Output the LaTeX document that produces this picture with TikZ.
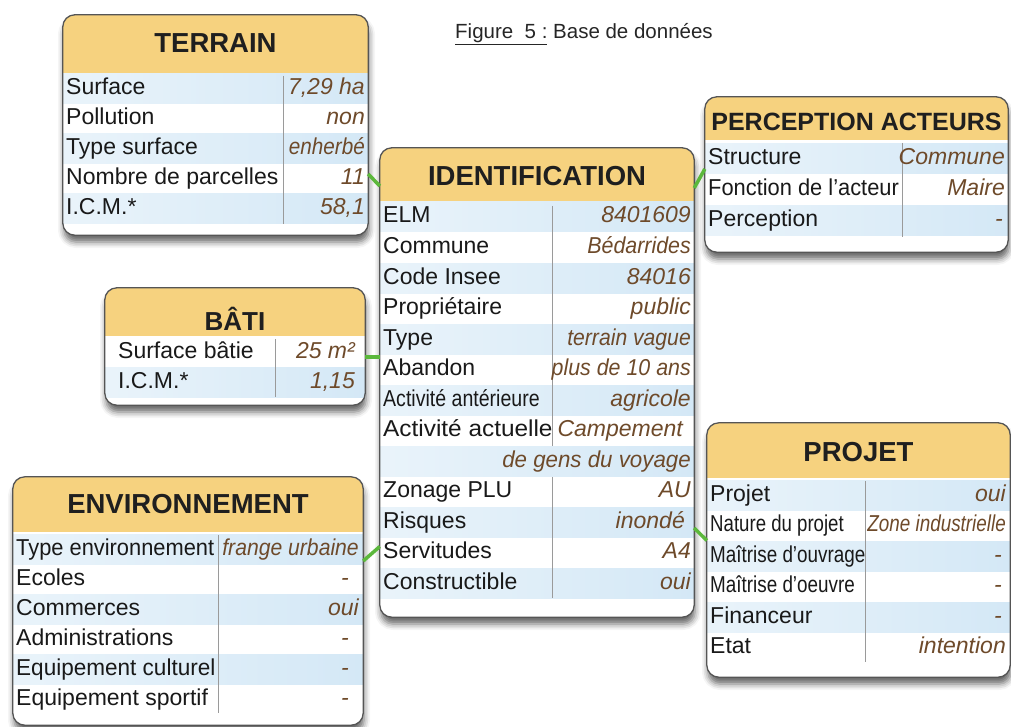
\documentclass[tikz,border=0pt]{standalone}
\usepackage{fontspec}
\setmainfont{Liberation Sans}
\usepackage{graphicx}
\usetikzlibrary{fit,calc,shadows.blur}
\definecolor{headc}{HTML}{F6D27F}
\definecolor{rowc}{HTML}{D4E8F6}
\definecolor{valc}{HTML}{6E4A2A}
\definecolor{linec}{HTML}{555555}
\definecolor{connc}{HTML}{5CB83C}
\definecolor{divc}{HTML}{9A9A9A}
\newcommand\sx[2]{\scalebox{#1}[1]{#2}}
% box frame + header: name, x1, y1, x2, y2, header bottom, title, title y
\newcommand\dbframe[8]{%
  \node[bgbox, fit={(#2,#3)(#4,#5)}] (#1) {};
  \begin{scope}
    \clip[rounded corners=12pt] (#2,#3) rectangle (#4,#5);
    \fill[headfill] (#2,#3) rectangle (#4,#6);
  \end{scope}
  \node[headtxt] (#1H) at ({(#2+#4)/2},#8) {#7};
}
\newcommand\rowband[3]{\fill[rowshade] (#1,#3-15) rectangle (#2,#3+15);}
\newcommand\drow[6]{%
  \node[lbl] (#1l) at (#2,#4) {#5};
  \node[val] (#1v) at (#3,#4) {#6};
}
\newcommand\dbborder[1]{\draw[boxline] (#1.north west) rectangle (#1.south east);}
\begin{document}
\begin{tikzpicture}[x=1pt,y=-1pt,
  bgbox/.style={inner sep=0pt, fill=white, rounded corners=12pt,
    blur shadow={shadow xshift=1pt, shadow yshift=-7pt, shadow blur radius=6pt, shadow opacity=60}},
  boxline/.style={draw=linec, line width=1.3pt, rounded corners=12pt},
  headfill/.style={fill=headc},
  rowshade/.style={left color=rowc!50!white, right color=rowc},
  headtxt/.style={font=\fontsize{27.5}{28}\selectfont\bfseries, text=black!88, inner sep=0pt, text height=19pt, text depth=0pt},
  lbl/.style={font=\fontsize{23}{25}\selectfont, text=black!90, inner sep=1pt, text height=16pt, text depth=4pt, anchor=west},
  val/.style={font=\fontsize{23}{25}\selectfont\itshape, text=valc, inner sep=1pt, text height=16pt, text depth=4pt, anchor=east},
  divline/.style={draw=divc, line width=0.9pt},
  conn/.style={draw=connc, line width=3.5pt},
]
\useasboundingbox (0,0) rectangle (1011,727);

% title
\node[anchor=west, font=\fontsize{20.5}{22}\selectfont, inner sep=0pt, text=black!85] (title) at (455,34)
  {\underline{Figure\ \ 5 :}\ Base de données};

% ---------------- TERRAIN
\dbframe{terrain}{63}{15}{368}{235}{73}{TERRAIN}{43}
\rowband{63}{368}{89}\rowband{63}{368}{149}\rowband{63}{368}{209}
\draw[divline] (283,76) -- (283,224);
\drow{t1}{65}{366}{89}{Surface}{7,29 ha}
\drow{t2}{65}{366}{119}{Pollution}{non}
\drow{t3}{65}{366}{149}{Type surface}{\sx{0.9}{enherbé}}
\drow{t4}{65}{366}{179}{Nombre de parcelles}{11}
\drow{t5}{65}{366}{209}{I.C.M.*}{58,1}
\dbborder{terrain}

% ---------------- IDENTIFICATION
\dbframe{ident}{380}{148}{694}{617}{203}{IDENTIFICATION}{176}
\rowband{380}{694}{217}\rowband{380}{694}{278}\rowband{380}{694}{339}
\rowband{380}{694}{400}\rowband{380}{694}{461}\rowband{380}{694}{522}\rowband{380}{694}{583}
\draw[divline] (552,206) -- (552,446);
\draw[divline] (552,477) -- (552,598);
\drow{i1}{382}{692}{217}{ELM}{8401609}
\drow{i2}{382}{692}{247.5}{Commune}{\sx{0.93}{Bédarrides}}
\drow{i3}{382}{692}{278}{Code Insee}{84016}
\drow{i4}{382}{692}{308.5}{Propriétaire}{public}
\drow{i5}{382}{692}{339}{Type}{\sx{0.92}{terrain vague}}
\drow{i6}{382}{692}{369.5}{Abandon}{\sx{0.93}{plus de 10 ans}}
\drow{i7}{382}{692}{400}{\sx{0.85}{Activité antérieure}}{agricole}
\drow{i8}{382}{684}{430.5}{\sx{1.06}{Activité actuelle}}{Campement}
\node[val] (i9v) at (692,461) {\sx{0.97}{de gens du voyage}};
\drow{i10}{382}{692}{491.5}{Zonage PLU}{AU}
\drow{i11}{382}{686}{522}{Risques}{inondé}
\drow{i12}{382}{692}{552.5}{Servitudes}{A4}
\drow{i13}{382}{692}{583}{Constructible}{oui}
\dbborder{ident}

% ---------------- PERCEPTION ACTEURS
\dbframe{percep}{705}{97}{1008}{252}{140}{{\fontsize{25}{25}\selectfont PERCEPTION ACTEURS}}{121}
\rowband{705}{1008}{159}\rowband{705}{1008}{221}
\draw[divline] (902,143) -- (902,237);
\drow{p1}{707}{1006}{159}{Structure}{Commune}
\drow{p2}{707}{1006}{190}{\sx{0.95}{Fonction de l'acteur}}{Maire}
\drow{p3}{707}{1004}{221}{Perception}{-}
\dbborder{percep}

% ---------------- BATI
\dbframe{bati}{105}{288}{365}{405}{336}{{\fontsize{26}{26}\selectfont BÂTI}}{321}
\rowband{105}{365}{382}
\draw[divline] (275,339) -- (275,397);
\drow{b1}{117}{356}{352}{Surface bâtie}{25 m²}
\drow{b2}{117}{356}{382}{I.C.M.*}{1,15}
\dbborder{bati}

% ---------------- ENVIRONNEMENT
\dbframe{env}{13}{477}{363}{725}{532}{ENVIRONNEMENT}{504}
\rowband{13}{363}{549}\rowband{13}{363}{609}\rowband{13}{363}{669}
\draw[divline] (218,535) -- (218,713);
\drow{e1}{15}{360}{549}{\sx{0.95}{Type environnement}}{\sx{0.92}{frange urbaine}}
\drow{e2}{15}{350}{579}{Ecoles}{-}
\drow{e3}{15}{360}{609}{Commerces}{oui}
\drow{e4}{15}{350}{639}{Administrations}{-}
\drow{e5}{15}{350}{669}{\sx{0.98}{Equipement culturel}}{-}
\drow{e6}{15}{350}{699}{Equipement sportif}{-}
\dbborder{env}

% ---------------- PROJET
\dbframe{projet}{707}{423}{1010}{677}{478}{PROJET}{452}
\rowband{707}{1010}{495}\rowband{707}{1010}{556}\rowband{707}{1010}{617}
\draw[divline] (865,481) -- (865,662);
\drow{pr1}{709}{1007}{495}{Projet}{oui}
\drow{pr2}{709}{1007}{525.5}{\sx{0.81}{Nature du projet}}{\sx{0.82}{Zone industrielle}}
\drow{pr3}{709}{1003}{556}{\sx{0.82}{Maîtrise d'ouvrage}}{-}
\drow{pr4}{709}{1003}{586.5}{\sx{0.82}{Maîtrise d'oeuvre}}{-}
\drow{pr5}{709}{1003}{617}{Financeur}{-}
\drow{pr6}{709}{1007}{647.5}{Etat}{intention}
\dbborder{projet}

% ---------------- connectors
\draw[conn] ($(terrain.east |- t4v)+(0,-5)$) -- ($(ident.west |- identH)+(0,10)$);
\draw[conn] ($(ident.east |- identH)+(0,12)$) -- ($(percep.west |- p1l)+(0,10)$);
\draw[conn] ($(bati.east |- b1l)+(0,5)$) -- ($(ident.west |- b1l)+(0,5)$);
\draw[conn] ($(env.east |- e1l)+(0,12)$) -- ($(ident.west |- i12l)+(0,-6)$);
\draw[conn] ($(ident.east |- i11v)+(0,6)$) -- ($(projet.west |- pr2l)+(0,15)$);
\end{tikzpicture}
\end{document}
